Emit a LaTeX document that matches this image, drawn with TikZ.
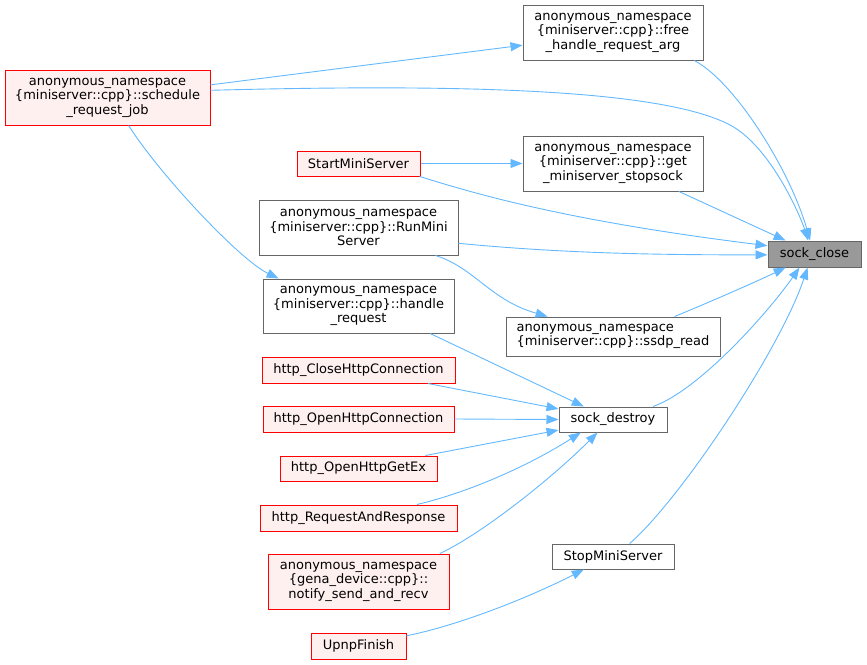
\documentclass[tikz,border=0pt]{standalone}
\usepackage{fontspec}
\setmainfont{DejaVu Sans}
\usetikzlibrary{arrows.meta}
\definecolor{edgeblue}{HTML}{63B8FF}
\definecolor{redline}{HTML}{FF0000}
\definecolor{redfill}{HTML}{FFF0F0}
\definecolor{grayline}{HTML}{666666}
\definecolor{grayfill}{HTML}{999999}

\begin{document}
\begin{tikzpicture}[x=1pt,y=-1pt,
	fn/.style={draw=grayline, fill=white, line width=1pt, inner sep=0pt, align=center,
		font=\fontsize{13}{14.4}\selectfont},
	caller/.style={fn, draw=redline, fill=redfill},
	target/.style={fn, fill=grayfill},
	call/.style={draw=edgeblue, line width=0.9pt, -{Triangle[length=12pt,width=9pt]}}]
	\useasboundingbox (0,0) rectangle (867,664);
	% functions
	\node[fn, minimum width=180, minimum height=55] (free) at (613,32.5)
		{anonymous\_namespace\\\{miniserver::cpp\}::free\\\_handle\_request\_arg};
	\node[caller, minimum width=205, minimum height=55] (sched) at (107.5,97.5)
		{anonymous\_namespace\\\{miniserver::cpp\}::schedule\\\_request\_job};
	\node[caller, minimum width=123, minimum height=25] (start) at (358.5,163.5) {StartMiniServer};
	\node[fn, minimum width=180, minimum height=55] (stopsock) at (613,163.5)
		{anonymous\_namespace\\\{miniserver::cpp\}::get\\\_miniserver\_stopsock};
	\node[fn, minimum width=199, minimum height=55] (run) at (358.5,227.5)
		{anonymous\_namespace\\\{miniserver::cpp\}::RunMini\\Server};
	\node[target, minimum width=93, minimum height=26] (close) at (814.5,254) {sock\_close};
	\node[fn, minimum width=191, minimum height=54] (handle) at (358.5,306)
		{anonymous\_namespace\\\{miniserver::cpp\}::handle\\\_request};
	\node[fn, align=left, minimum width=214, minimum height=39] (ssdp) at (613,336.5)
		{anonymous\_namespace\\\{miniserver::cpp\}::ssdp\_read};
	\node[caller, minimum width=193, minimum height=26] (hclose) at (358.5,370) {http\_CloseHttpConnection};
	\node[fn, minimum width=108, minimum height=25] (destroy) at (613,419.5) {sock\_destroy};
	\node[caller, minimum width=191, minimum height=26] (hopen) at (358.5,419) {http\_OpenHttpConnection};
	\node[caller, minimum width=157, minimum height=25] (getex) at (358.5,468.5) {http\_OpenHttpGetEx};
	\node[caller, minimum width=197, minimum height=26] (req) at (358.5,518) {http\_RequestAndResponse};
	\node[caller, minimum width=181, minimum height=55] (notify) at (358.5,581.5)
		{anonymous\_namespace\\\{gena\_device::cpp\}::\\notify\_send\_and\_recv};
	\node[fn, minimum width=122, minimum height=25] (stop) at (613,556.5) {StopMiniServer};
	\node[caller, minimum width=95, minimum height=26] (upnp) at (358.5,646) {UpnpFinish};
	% calls
	\draw[call] (sched.7) -- (free.188);
	\draw[call] (sched.4) .. controls (450,84) and (660,88) .. (730,125)
		.. controls (770,146) and (800,215) .. (close.115);
	\draw[call] (free.-19) .. controls (735,82) and (790,170) .. (close.108);
	\draw[call] (start.east) -- (stopsock.west);
	\draw[call] (start.-12) .. controls (470,192) and (560,220) .. (close.170);
	\draw[call] (stopsock.-23) -- (close.155);
	\draw[call] (run.-9) .. controls (560,253) and (650,255) .. (close.181);
	\draw[call] (run.-20) .. controls (475,268) and (490,300) .. (ssdp.163);
	\draw[call] (ssdp.18) .. controls (710,302) and (760,280) .. (close.205);
	\draw[call] (destroy.18) .. controls (700,390) and (770,310) .. (close.222);
	\draw[call] (stop.38) .. controls (680,500) and (780,350) .. (close.243);
	\draw[call] (sched.-53) .. controls (160,175) and (240,260) .. (handle.161);
	\draw[call] (handle.-21) -- (destroy.156);
	\draw[call] (hclose.-11) -- (destroy.169);
	\draw[call] (hopen.east) -- (destroy.west);
	\draw[call] (getex.11) -- (destroy.191);
	\draw[call] (req.13) .. controls (470,492) and (530,465) .. (destroy.202);
	\draw[call] (notify.19) .. controls (480,535) and (550,480) .. (destroy.220);
	\draw[call] (upnp.12) .. controls (460,625) and (530,597) .. (stop.204);
\end{tikzpicture}
\end{document}
